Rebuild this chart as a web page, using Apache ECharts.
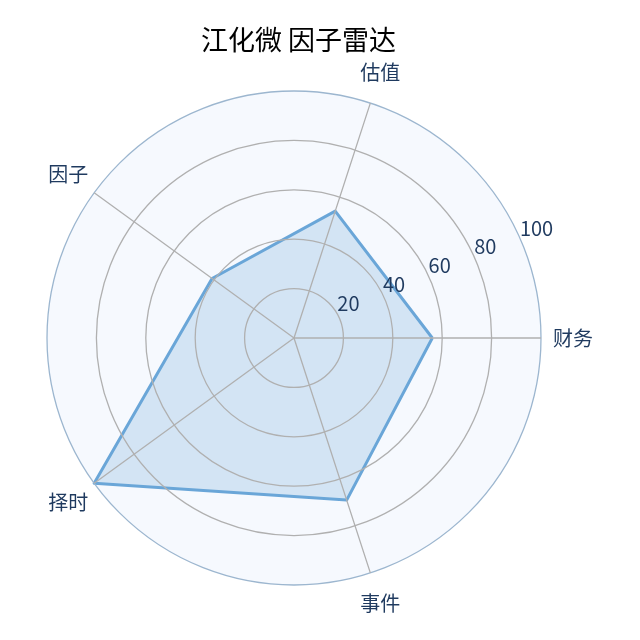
<!DOCTYPE html>
<html>
<head>
<meta charset="utf-8">
<script src="https://cdn.jsdelivr.net/npm/echarts@6/dist/echarts.min.js"></script>
<style>
html, body { margin: 0; padding: 0; background: #fff; }
#container { width: 640px; height: 640px; }
</style>
</head>
<body>
<div id="container"></div>
<script>
var titleText = '江化微 因子雷达';
var indicatorNames = ['财务', '估值', '因子', '择时', '事件'];
var indicatorMax = [100, 100, 100, 100, 100];
var scoreValues = [56, 54, 41, 100, 69];
var radiusTicks = [0, 20, 40, 60, 80, 100];

var chart = echarts.init(document.getElementById('container'));
var labelColor = '#1f3a5f';
var gridColor = '#b0b0b0';
var font = '"Noto Sans CJK SC", "Noto Sans", sans-serif';
var center = [294, 338];
var outerRadius = 247;
var labelAngle = 22.5;   // 刻度标签所在方向
var nameRadius = 113;    // 指标名称放在 100 之外

// 指标名称用极坐标上的空散点来居中放置
var nameData = indicatorNames.map(function (n, i) {
    var a = (i * 360 / indicatorNames.length - labelAngle + 360) % 360;
    return { name: n, value: [nameRadius, a] };
});

var radiusRange = {
    min: radiusTicks[0],
    max: radiusTicks[radiusTicks.length - 1],
    interval: radiusTicks[1] - radiusTicks[0]
};

var option = {
    backgroundColor: '#fff',
    title: {
        text: titleText,
        left: 196,
        top: 21,
        textStyle: { color: '#000', fontSize: 27, fontWeight: 'normal', fontFamily: font }
    },
    radar: {
        center: center,
        radius: outerRadius,
        startAngle: 0,
        shape: 'circle',
        splitNumber: 5,
        indicator: indicatorNames.map(function (n, i) {
            return { name: n, max: indicatorMax[i], min: 0 };
        }),
        axisName: { show: false },
        axisLine: { show: false },
        splitLine: { show: false },
        splitArea: { show: true, areaStyle: { color: ['#f6f9fe'] } }
    },
    polar: [
        { center: center, radius: outerRadius },   // 刻度标签
        { center: center, radius: outerRadius }    // 网格线（盖在填充之上）
    ],
    angleAxis: [{
        polarIndex: 0,
        startAngle: labelAngle,
        clockwise: false,
        show: false,
        min: 0,
        max: 360
    }, {
        polarIndex: 1,
        startAngle: 0,
        clockwise: false,
        min: 0,
        max: 360,
        interval: 360 / indicatorNames.length,
        axisLine: { show: false },
        axisTick: { show: false },
        axisLabel: { show: false },
        splitLine: { show: true, lineStyle: { color: gridColor, width: 1.3 } },
        z: 5
    }],
    radiusAxis: [{
        polarIndex: 0,
        min: radiusRange.min,
        max: radiusRange.max,
        interval: radiusRange.interval,
        axisLine: { show: false },
        axisTick: { show: false },
        splitLine: { show: false },
        axisLabel: {
            color: labelColor,
            fontSize: 20,
            fontFamily: font,
            align: 'left',
            verticalAlign: 'bottom',
            margin: 6,
            formatter: function (v) { return v === 0 ? '' : String(v); }
        },
        z: 10
    }, {
        polarIndex: 1,
        min: radiusRange.min,
        max: radiusRange.max,
        interval: radiusRange.interval,
        axisLine: { show: false },
        axisTick: { show: false },
        axisLabel: { show: false },
        splitLine: {
            show: true,
            lineStyle: {
                color: [gridColor, gridColor, gridColor, gridColor, gridColor, '#9cb6cf'],
                width: 1.3
            }
        },
        z: 5
    }],
    series: [{
        type: 'radar',
        symbol: 'none',
        z: 3,
        lineStyle: { color: '#6aa6d8', width: 3 },
        areaStyle: { color: 'rgba(106,166,216,0.25)', opacity: 1 },
        data: [{ value: scoreValues, name: titleText }]
    }, {
        type: 'scatter',
        coordinateSystem: 'polar',
        polarIndex: 0,
        clip: false,
        symbolSize: 0,
        silent: true,
        z: 10,
        itemStyle: { opacity: 1 },
        label: {
            show: true,
            position: 'inside',
            formatter: '{b}',
            color: labelColor,
            opacity: 1,
            fontSize: 20,
            fontFamily: font
        },
        data: nameData
    }]
};
chart.setOption(option);
</script>
</body>
</html>
